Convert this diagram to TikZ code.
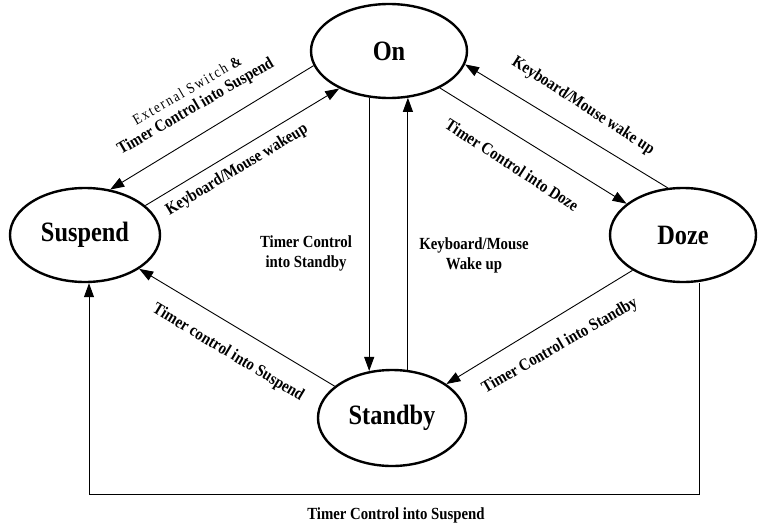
\documentclass[tikz,border=0pt]{standalone}
\usepackage{fontspec}
\setmainfont{Liberation Serif}[FakeStretch=0.87]
\newfontfamily\spacedfont{Liberation Serif}[LetterSpace=12,FakeStretch=0.87]
\usetikzlibrary{arrows.meta,shapes.geometric}
\begin{document}
\begin{tikzpicture}[x=1pt,y=-1pt,
  state/.style={draw, line width=2.4pt, ellipse, minimum width=150pt, minimum height=94pt, inner sep=0pt, font=\fontsize{28}{32}\selectfont\bfseries},
  arr/.style={line width=0.9pt, -{Triangle[length=14pt,width=10pt]}},
  lbl/.style={font=\fontsize{17}{20}\selectfont\bfseries, inner sep=0pt, align=center}]
\useasboundingbox (0,0) rectangle (759,527);
\node[state, minimum width=156pt] (On) at (389,51) {On};
\node[state] (Suspend) at (85,235) {Suspend};
\node[state, minimum width=146pt] (Doze) at (683,235) {Doze};
\node[state, minimum width=148pt, minimum height=96pt] (Standby) at (392,418) {Standby};
\coordinate (cR) at (699,494);
\coordinate (cL) at (89,494);
% connectors
\draw[arr] (On.191) -- (Suspend.61);
\draw[arr] (Suspend.26) -- (On.217);
\draw[arr] (On.324) -- (Doze.151);
\draw[arr] (Doze.108) -- (On.350);
\draw[arr] (On.247.4) -- (On.247.4 |- Standby.115);
\draw[arr] (Standby.72 -| On.292.6) -- (On.292.6);
\draw[arr] (Doze.215) -- (Standby.32);
\draw[arr] (Standby.151) -- (Suspend.328);
\draw[arr] (Doze.south -| cR) -- (cR) -- (cL) -- (Suspend.south -| cL);
% labels
\node[lbl, rotate=30, font=\fontsize{15}{17}\selectfont] (l1a) at (187,90) {{\spacedfont External Switch} \textbf{\&}};
\node[lbl, rotate=30] (l1b) at (196,107) {Timer Control into Suspend};
\node[lbl, rotate=31] (l2) at (237,170) {Keyboard/Mouse wakeup};
\node[lbl, rotate=-33] (l3) at (512,165) {Timer Control into Doze};
\node[lbl, rotate=-33] (l4) at (583,106) {Keyboard/Mouse wake up};
\node[lbl] (l5) at (306,253) {Timer Control\\into Standby};
\node[lbl] (l6) at (474,255) {Keyboard/Mouse\\Wake up};
\node[lbl, rotate=30] (l7) at (560,346) {Timer Control into Standby};
\node[lbl, rotate=-31] (l8) at (228,353) {Timer control into Suspend};
\node[lbl] (l9) at (396,515) {Timer Control into Suspend};
\end{tikzpicture}
\end{document}
